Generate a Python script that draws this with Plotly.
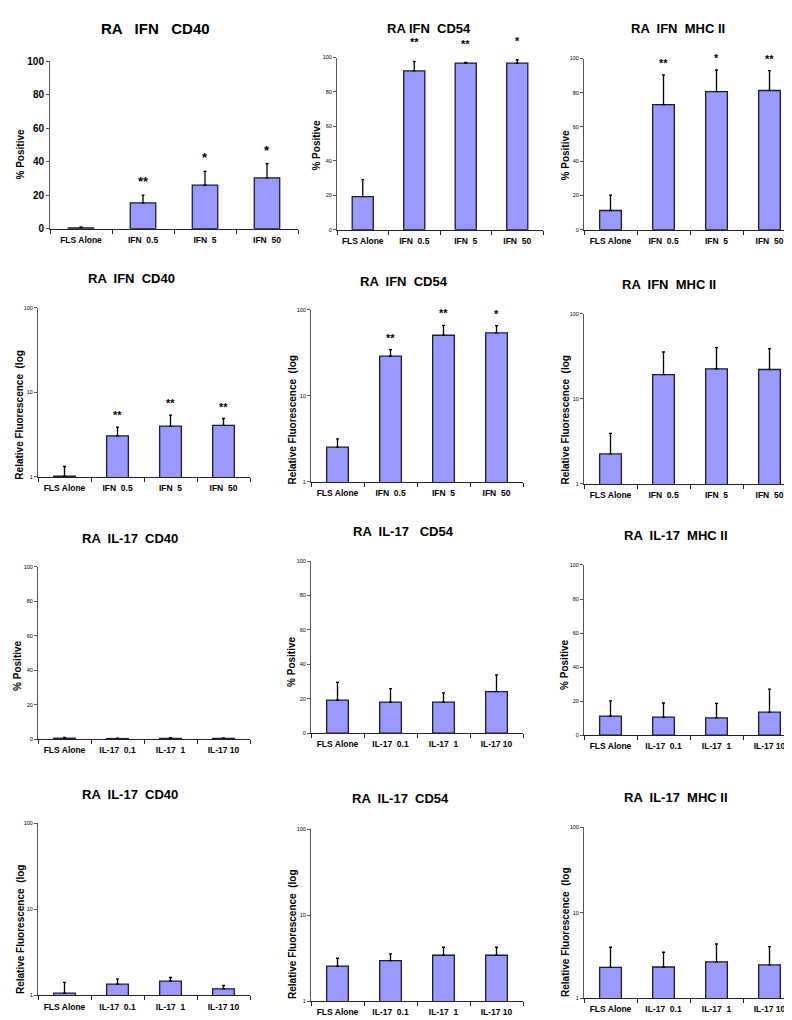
import math
import plotly.graph_objects as go

W, H = 792, 1020

# ---------------- data ----------------
ifn_categories = ["FLS Alone", "IFN  0.5", "IFN  5", "IFN  50"]
il17_categories = ["FLS Alone", "IL-17  0.1", "IL-17  1", "IL-17 10"]

ifn_cd40_pct = [0.5, 15.4, 26.0, 30.4]
ifn_cd40_pct_err = [0.5, 4.7, 8.3, 8.5]
ifn_cd54_pct = [19.2, 92.3, 96.7, 96.7]
ifn_cd54_pct_err = [9.9, 5.4, 0.4, 2.0]
ifn_mhc_pct = [11.2, 73.1, 80.6, 81.3]
ifn_mhc_pct_err = [9.0, 17.3, 12.7, 11.6]

ifn_cd40_rf = [1.02, 3.06, 4.0, 4.07]
ifn_cd40_rf_err = [0.31, 0.83, 1.37, 0.84]
ifn_cd54_rf = [2.53, 28.9, 50.6, 53.8]
ifn_cd54_rf_err = [0.63, 5.6, 15.3, 11.6]
ifn_mhc_rf = [2.25, 19.2, 22.5, 22.1]
ifn_mhc_rf_err = [1.67, 16.3, 17.4, 16.7]

il17_cd40_pct = [0.5, 0.3, 0.4, 0.4]
il17_cd40_pct_err = [0.5, 0.3, 0.4, 0.3]
il17_cd54_pct = [19.2, 18.0, 18.0, 24.1]
il17_cd54_pct_err = [10.3, 7.9, 5.4, 9.8]
il17_mhc_pct = [11.2, 10.6, 10.2, 13.5]
il17_mhc_pct_err = [8.9, 8.3, 8.5, 13.5]

il17_cd40_rf = [1.06, 1.35, 1.46, 1.19]
il17_cd40_rf_err = [0.35, 0.20, 0.15, 0.11]
il17_cd54_rf = [2.56, 2.97, 3.42, 3.42]
il17_cd54_rf_err = [0.60, 0.58, 0.82, 0.82]
il17_mhc_rf = [2.30, 2.32, 2.67, 2.45]
il17_mhc_rf_err = [1.65, 1.13, 1.64, 1.57]

stars_ifn_cd40_pct = ["", "**", "*", "*"]
stars_ifn_cd54_pct = ["", "**", "**", "*"]
stars_ifn_mhc_pct = ["", "**", "*", "**"]
stars_ifn_cd40_rf = ["", "**", "**", "**"]
stars_ifn_cd54_rf = ["", "**", "**", "*"]
no_stars = ["", "", "", ""]

pct_ticks = [0, 20, 40, 60, 80, 100]
log_ticks = [1, 10, 100]

PCT_TITLE = "% Positive"
LOG_TITLE = "Relative Fluorescence  (log"

# ---------------- styling / layout ----------------
FONT = "Liberation Sans, Arial, sans-serif"
BAR_FILL = "#9999FF"
BAR_EDGE = "#1a1a3a"

panels = [
    # title, cats, vals, errs, stars, log, box(x0,x1,ytop,ybot), title pos, ytitle pos, big, star shift
    ("RA   IFN   CD40", ifn_categories, ifn_cd40_pct, ifn_cd40_pct_err, stars_ifn_cd40_pct, False,
     (42, 290, 48, 217), (147, 15), (12, 142), True, 4),
    ("RA IFN  CD54", ifn_categories, ifn_cd54_pct, ifn_cd54_pct_err, stars_ifn_cd54_pct, False,
     (329, 535, 44, 218), (421, 15), (309, 133), False, 11),
    ("RA  IFN  MHC II", ifn_categories, ifn_mhc_pct, ifn_mhc_pct_err, stars_ifn_mhc_pct, False,
     (576, 788, 45, 218), (670, 15), (557, 143), False, 4),
    ("RA  IFN  CD40", ifn_categories, ifn_cd40_rf, ifn_cd40_rf_err, stars_ifn_cd40_rf, True,
     (30, 242, 297, 468), (123, 267), (12, 405), False, 4),
    ("RA  IFN  CD54", ifn_categories, ifn_cd54_rf, ifn_cd54_rf_err, stars_ifn_cd54_rf, True,
     (303, 515, 299, 473), (396, 270), (285, 410), False, 4),
    ("RA  IFN  MHC II", ifn_categories, ifn_mhc_rf, ifn_mhc_rf_err, no_stars, True,
     (576, 788, 303, 475), (661, 273), (558, 410), False, 4),
    ("RA  IL-17  CD40", il17_categories, il17_cd40_pct, il17_cd40_pct_err, no_stars, False,
     (30, 242, 559, 733), (122, 530), (10, 659), False, 4),
    ("RA  IL-17   CD54", il17_categories, il17_cd54_pct, il17_cd54_pct_err, no_stars, False,
     (303, 515, 553, 727), (395, 523), (284, 655), False, 4),
    ("RA  IL-17  MHC II", il17_categories, il17_mhc_pct, il17_mhc_pct_err, no_stars, False,
     (576, 788, 557, 729), (668, 527), (557, 658), False, 4),
    ("RA  IL-17  CD40", il17_categories, il17_cd40_rf, il17_cd40_rf_err, no_stars, True,
     (30, 242, 818, 992), (122, 789), (12, 925), False, 4),
    ("RA  IL-17  CD54", il17_categories, il17_cd54_rf, il17_cd54_rf_err, no_stars, True,
     (303, 515, 824, 998), (392, 793), (285, 930), False, 4),
    ("RA  IL-17  MHC II", il17_categories, il17_mhc_rf, il17_mhc_rf_err, no_stars, True,
     (576, 788, 822, 995), (668, 792), (558, 928), False, 4),
]

fig = go.Figure()
annotations = []
layout = dict(
    width=W, height=H, margin=dict(l=0, r=0, t=0, b=0),
    paper_bgcolor="white", plot_bgcolor="white", showlegend=False,
    font=dict(family=FONT, color="black"),
)

for i, (title, cats, vals, errs, stars, is_log, box, tpos, ypos, big, star_shift) in enumerate(panels, start=1):
    sfx = "" if i == 1 else str(i)
    x0, x1, yt, yb = box
    fig.add_trace(go.Bar(
        x=cats, y=vals, width=0.41,
        marker=dict(color=BAR_FILL, line=dict(color=BAR_EDGE, width=1.3)),
        error_y=dict(type="data", symmetric=False, array=errs, arrayminus=[0] * len(errs),
                     color="black", thickness=1.3, width=1.5),
        xaxis="x" + sfx, yaxis="y" + sfx, hoverinfo="skip",
    ))
    layout["xaxis" + sfx] = dict(
        domain=[x0 / W, x1 / W], anchor="y" + sfx, type="category",
        range=[-0.5, len(cats) - 0.5],
        showline=True, linecolor="#222222", linewidth=1,
        ticks="outside", tickson="boundaries", ticklen=4, tickcolor="#222222",
        showgrid=False, zeroline=False,
        tickfont=dict(family=FONT, size=8.5, color="black", weight="bold"),
        ticklabelstandoff=3,
    )
    ydict = dict(
        domain=[1 - yb / H, 1 - yt / H], anchor="x" + sfx,
        showline=True, linecolor="#555555", linewidth=1,
        ticks="outside", ticklen=3, tickcolor="#555555",
        showgrid=False, zeroline=False,
        tickfont=dict(family=FONT, size=10 if big else 5.5, color="black",
                      weight="bold" if big else "normal"),
    )
    if is_log:
        ydict.update(type="log", range=[0, 2], tickvals=log_ticks,
                     ticktext=[str(t) for t in log_ticks])
    else:
        ydict.update(range=[0, 100], tickvals=pct_ticks)
    layout["yaxis" + sfx] = ydict

    # panel title
    annotations.append(dict(
        text=title, xref="paper", yref="paper", x=tpos[0] / W, y=1 - tpos[1] / H,
        xanchor="center", yanchor="middle", showarrow=False,
        font=dict(family=FONT, size=15 if big else 13, color="black", weight="bold"),
    ))
    # y axis title
    annotations.append(dict(
        text=LOG_TITLE if is_log else PCT_TITLE, xref="paper", yref="paper",
        x=ypos[0] / W, y=1 - ypos[1] / H, xanchor="center", yanchor="middle",
        textangle=-90, showarrow=False,
        font=dict(family=FONT, size=10, color="black", weight="bold"),
    ))
    # significance stars
    for c, v, e, s in zip(cats, vals, errs, stars):
        if not s:
            continue
        top = v + e
        annotations.append(dict(
            text=s, xref="x" + sfx, yref="y" + sfx, x=c,
            y=math.log10(top) if is_log else top,
            xanchor="center", yanchor="bottom", yshift=star_shift, showarrow=False,
            font=dict(family=FONT, size=13 if big else 11, color="black", weight="bold"),
        ))

layout["annotations"] = annotations
fig.update_layout(**layout)
fig.write_html("out.html")
